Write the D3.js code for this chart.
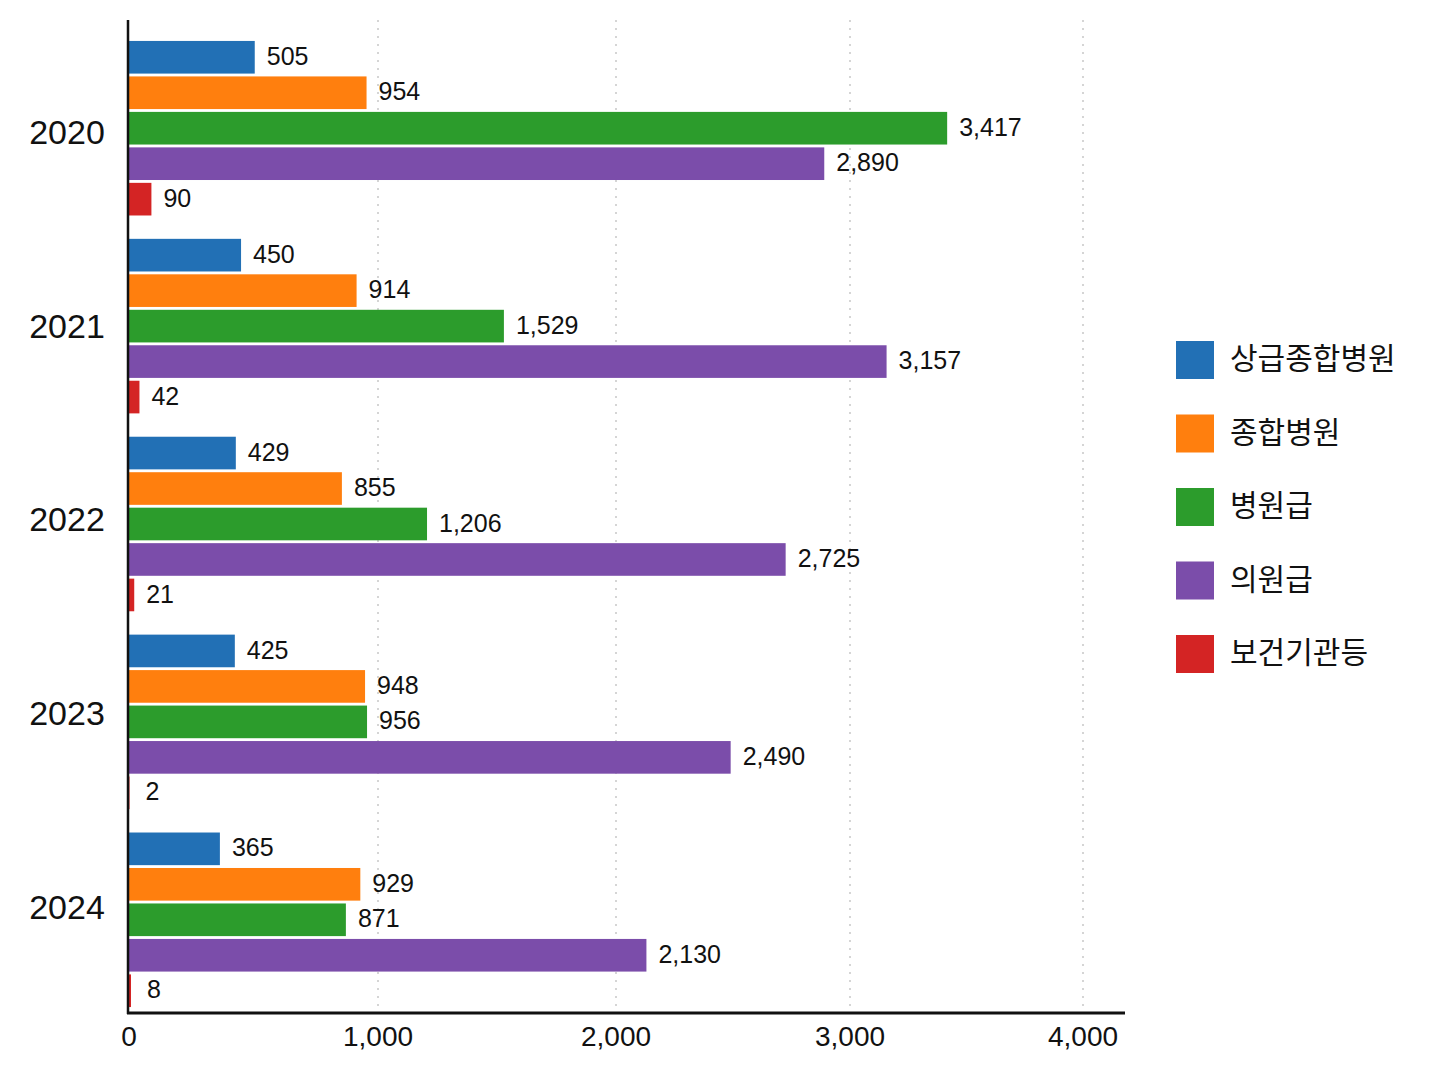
<!DOCTYPE html>
<html><head><meta charset="utf-8">
<script src="https://cdn.jsdelivr.net/npm/d3@7"></script>
<style>
html,body{margin:0;padding:0;background:#fff;}
svg{display:block;}
.num{font-family:"Liberation Sans",Arial,sans-serif;}
.kr{font-family:"Noto Sans CJK KR","Noto Sans",sans-serif;}
</style></head>
<body><svg id="chart" width="1448" height="1086"></svg>
<script>
const years = ["2020","2021","2022","2023","2024"];
const seriesNames = ["상급종합병원","종합병원","병원급","의원급","보건기관등"];
const seriesColors = ["#2270b5","#ff7f0e","#2c9c2c","#7b4daa","#d42424"];
const tertiaryHospitals = [505,450,429,425,365];
const generalHospitals = [954,914,855,948,929];
const hospitals = [3417,1529,1206,956,871];
const clinics = [2890,3157,2725,2490,2130];
const healthCenters = [90,42,21,2,8];
const xTicks = [0,1000,2000,3000,4000];

const seriesValues = [tertiaryHospitals,generalHospitals,hospitals,clinics,healthCenters];
const svg = d3.select("#chart");
const mLeft = 129, mRight = 1125, mTop = 20, mBottom = 1013;

// the reference axis is slightly non-uniform; piecewise linear scale follows its gridlines
const x = d3.scaleLinear().domain([0, 1000, 2000, 3000, 4000, 4180])
  .range([mLeft, 378, 616, 850, 1083, mRight]);
const y0 = d3.scaleBand().domain(years).range([36, 1012]).paddingInner(0.118).paddingOuter(0.025);
const y1 = d3.scaleBand().domain(seriesNames).range([0, y0.bandwidth()]).paddingInner(0.08);
const yLabel = d3.scalePoint().domain(years).range([135, 910]);

// gridlines
svg.append("g").selectAll("line").data(xTicks.filter(d=>d>0)).join("line")
  .attr("x1", d=>x(d)).attr("x2", d=>x(d)).attr("y1", mTop).attr("y2", mBottom)
  .attr("stroke","#c8c8c8").attr("stroke-width",1.5).attr("stroke-dasharray","2,6");

// bars
const groups = svg.append("g").selectAll("g").data(years).join("g")
  .attr("transform", d=>`translate(0,${y0(d)})`);
groups.each(function(yr, yi){
  const g = d3.select(this);
  const rows = seriesNames.map((s,si)=>({s, si, v: seriesValues[si][yi]}));
  g.selectAll("rect").data(rows).join("rect")
    .attr("x", x(0)).attr("y", d=>y1(d.s))
    .attr("width", d=>Math.max(0, x(d.v)-x(0))).attr("height", y1.bandwidth())
    .attr("fill", d=>seriesColors[d.si]);
  g.selectAll("text").data(rows).join("text")
    .attr("class","num")
    .attr("x", d=>x(d.v)+ (d.v<10 ? 16 : 12))
    .attr("y", d=>y1(d.s)+y1.bandwidth()/2+1)
    .attr("dominant-baseline","middle")
    .attr("font-size",25).attr("fill","#111")
    .text(d=>d3.format(",")(d.v));
});

// year labels
svg.append("g").selectAll("text").data(years).join("text")
  .attr("class","num")
  .attr("x", 67).attr("y", d=>yLabel(d))
  .attr("text-anchor","middle").attr("dominant-baseline","middle")
  .attr("font-size",34).attr("fill","#111").text(d=>d);

// axes lines
svg.append("line").attr("x1",mLeft-1).attr("x2",mLeft-1).attr("y1",mTop).attr("y2",mBottom+1)
  .attr("stroke","#111").attr("stroke-width",2.5);
svg.append("line").attr("x1",mLeft-2).attr("x2",mRight).attr("y1",mBottom).attr("y2",mBottom)
  .attr("stroke","#111").attr("stroke-width",3);

// x tick labels
svg.append("g").selectAll("text").data(xTicks).join("text")
  .attr("class","num")
  .attr("x", d=>x(d)).attr("y", 1039)
  .attr("text-anchor","middle").attr("dominant-baseline","middle")
  .attr("font-size",28).attr("fill","#111").text(d=>d3.format(",")(d));

// legend
const lg = svg.append("g").selectAll("g").data(seriesNames).join("g")
  .attr("transform",(d,i)=>`translate(1176,${341 + i*73.5})`);
lg.append("rect").attr("width",38).attr("height",38).attr("fill",(d,i)=>seriesColors[i]);
lg.append("text").attr("class","kr").attr("x",54).attr("y",20)
  .attr("dominant-baseline","middle").attr("font-size",30).attr("fill","#111").text(d=>d);
</script></body></html>
